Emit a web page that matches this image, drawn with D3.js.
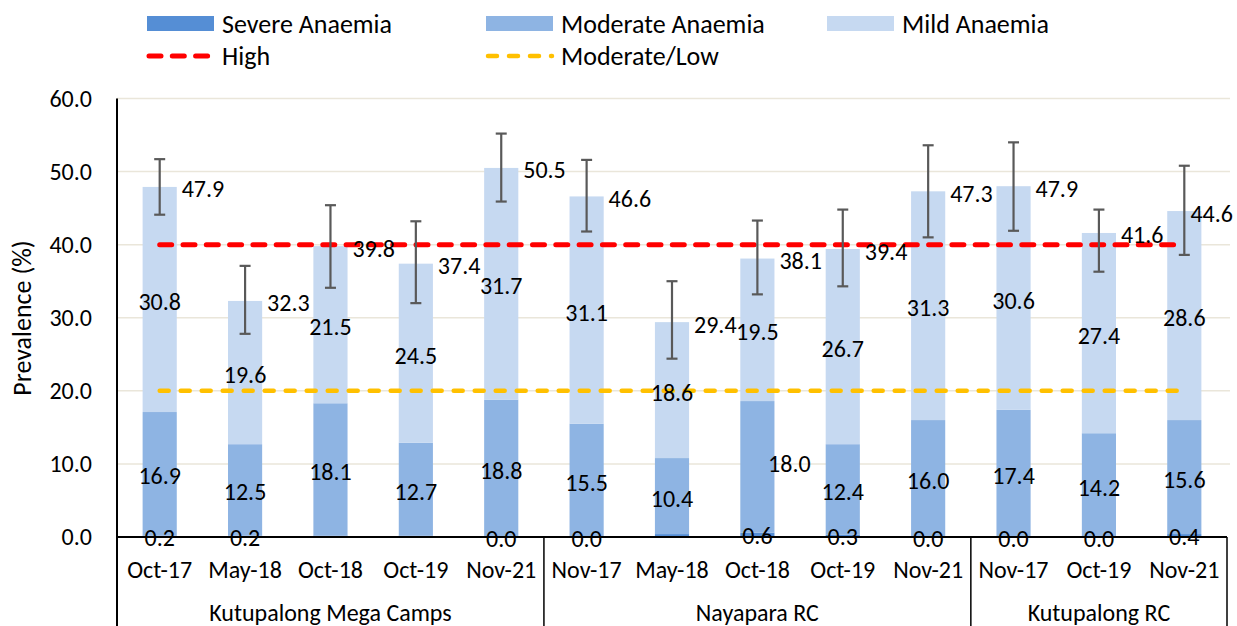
<!DOCTYPE html>
<html>
<head>
<meta charset="utf-8">
<script src="https://cdnjs.cloudflare.com/ajax/libs/d3/7.8.5/d3.min.js"></script>
<style>
  body { margin: 0; background: #fff; }
  svg text { font-family: Carlito, Calibri, Lato, sans-serif; fill: #000; }
</style>
</head>
<body>
<div class="content-container"></div>
<script>
// DATA
const categories = ["Oct-17", "May-18", "Oct-18", "Oct-19", "Nov-21",
                    "Nov-17", "May-18", "Oct-18", "Oct-19", "Nov-21",
                    "Nov-17", "Oct-19", "Nov-21"];
const groupNames = ["Kutupalong Mega Camps", "Nayapara RC", "Kutupalong RC"];
const groupSizes = [5, 5, 3];
const severe   = [0.2, 0.2, 0.2, 0.2, 0.0, 0.0, 0.4, 0.6, 0.3, 0.0, 0.0, 0.0, 0.4];
const severeLabelShown = [1, 1, 0, 0, 1, 1, 0, 1, 1, 1, 1, 1, 1];
const moderate = [16.9, 12.5, 18.1, 12.7, 18.8, 15.5, 10.4, 18.0, 12.4, 16.0, 17.4, 14.2, 15.6];
const mild     = [30.8, 19.6, 21.5, 24.5, 31.7, 31.1, 18.6, 19.5, 26.7, 31.3, 30.6, 27.4, 28.6];
const totals   = [47.9, 32.3, 39.8, 37.4, 50.5, 46.6, 29.4, 38.1, 39.4, 47.3, 47.9, 41.6, 44.6];
const errLow   = [44.1, 27.8, 34.1, 32.0, 45.9, 41.8, 24.4, 33.2, 34.3, 41.0, 41.9, 36.3, 38.6];
const errHigh  = [51.7, 37.1, 45.4, 43.2, 55.2, 51.6, 35.0, 43.3, 44.8, 53.6, 54.0, 44.8, 50.8];
const thresholdHigh = 40;
const thresholdModLow = 20;
const yTicks = [0, 10, 20, 30, 40, 50, 60];
const seriesNames = ["Severe Anaemia", "Moderate Anaemia", "Mild Anaemia"];
const lineNames = ["High", "Moderate/Low"];

// LAYOUT
const width = 1237, height = 626;
const padLeft = 117, padRight = 1227, padTop = 98.5, padBottom = 537;
const colors = ["#558ED5", "#8EB4E3", "#C6D9F1"];
const fontSize = 24;      // labels, ticks
const legendFont = 26;
const titleFont = 26;

const svg = d3.select(".content-container").append("svg")
  .attr("width", width).attr("height", height);

const idx = d3.range(categories.length);
const x = d3.scaleBand().domain(idx).range([padLeft, padRight]).paddingInner(0.6).paddingOuter(0.3);
const y = d3.scaleLinear().domain([0, 60]).range([padBottom, padTop]);
const cx = i => x(i) + x.bandwidth() / 2;

// gridlines
svg.append("g").selectAll("line").data(yTicks.filter(t => t > 0)).enter().append("line")
  .attr("x1", padLeft).attr("x2", 1230)
  .attr("y1", d => y(d)).attr("y2", d => y(d))
  .attr("stroke", "#EAE6DA").attr("stroke-width", 1.5);

// stacked bars
const stackData = idx.map(i => ({ i: i, s: severe[i], m: moderate[i], l: mild[i] }));
const stacked = d3.stack().keys(["s", "m", "l"])(stackData);
svg.append("g").selectAll("g").data(stacked).enter().append("g")
  .attr("fill", (d, k) => colors[k])
  .selectAll("rect").data(d => d).enter().append("rect")
  .attr("x", d => x(d.data.i))
  .attr("width", x.bandwidth())
  .attr("y", d => y(d[1]))
  .attr("height", d => y(d[0]) - y(d[1]));

// threshold lines
svg.append("line")
  .attr("x1", cx(0)).attr("x2", cx(categories.length - 1))
  .attr("y1", y(thresholdHigh)).attr("y2", y(thresholdHigh))
  .attr("stroke", "#FF0000").attr("stroke-width", 5)
  .attr("stroke-linecap", "round").attr("stroke-dasharray", "12,11.3");
svg.append("line")
  .attr("x1", cx(0)).attr("x2", cx(categories.length - 1))
  .attr("y1", y(thresholdModLow)).attr("y2", y(thresholdModLow))
  .attr("stroke", "#FFC000").attr("stroke-width", 4.5)
  .attr("stroke-linecap", "round").attr("stroke-dasharray", "9,12");

// error bars
const eb = svg.append("g").attr("stroke", "#595959").attr("stroke-width", 2.2);
idx.forEach(i => {
  eb.append("line").attr("x1", cx(i)).attr("x2", cx(i)).attr("y1", y(errLow[i])).attr("y2", y(errHigh[i]));
  eb.append("line").attr("x1", cx(i) - 5.5).attr("x2", cx(i) + 5.5).attr("y1", y(errLow[i])).attr("y2", y(errLow[i]));
  eb.append("line").attr("x1", cx(i) - 5.5).attr("x2", cx(i) + 5.5).attr("y1", y(errHigh[i])).attr("y2", y(errHigh[i]));
});

// axis lines
svg.append("line").attr("x1", padLeft).attr("x2", padRight).attr("y1", padBottom).attr("y2", padBottom)
  .attr("stroke", "#000").attr("stroke-width", 2);
svg.append("line").attr("x1", padLeft).attr("x2", padLeft).attr("y1", padTop).attr("y2", height)
  .attr("stroke", "#000").attr("stroke-width", 2);
let acc = 0;
groupSizes.forEach(n => {
  acc += n;
  const gx = acc < categories.length ? x(acc) - x.step() * x.paddingInner() / 2 : padRight;
  svg.append("line").attr("x1", gx).attr("x2", gx).attr("y1", padBottom).attr("y2", height)
    .attr("stroke", "#000").attr("stroke-width", 1.5);
});

// y axis
const yAxis = d3.axisLeft(y).tickValues(yTicks).tickFormat(d3.format(".1f")).tickSize(0).tickPadding(25);
const yg = svg.append("g").attr("transform", "translate(" + padLeft + ",0)").call(yAxis);
yg.select(".domain").remove();
yg.attr("font-family", null).attr("font-size", null);
yg.selectAll("text").style("font-size", fontSize + "px").attr("fill", "#000");

svg.append("text")
  .attr("transform", "translate(22,318) rotate(-90)")
  .attr("text-anchor", "middle").attr("dominant-baseline", "central")
  .style("font-size", titleFont + "px")
  .text("Prevalence (%)");

// category labels
svg.append("g").selectAll("text").data(idx).enter().append("text")
  .attr("x", d => cx(d)).attr("y", 569)
  .attr("text-anchor", "middle").attr("dominant-baseline", "central")
  .style("font-size", fontSize + "px")
  .text(d => categories[d]);

acc = 0;
groupNames.forEach((g, k) => {
  const a = acc, b = acc + groupSizes[k] - 1;
  acc += groupSizes[k];
  svg.append("text")
    .attr("x", (cx(a) + cx(b)) / 2).attr("y", 612)
    .attr("text-anchor", "middle").attr("dominant-baseline", "central")
    .style("font-size", fontSize + "px")
    .text(g);
});

// data labels
const fmt = d3.format(".1f");
const labels = svg.append("g").style("font-size", fontSize + "px");
idx.forEach(i => {
  if (severeLabelShown[i]) {
    labels.append("text").attr("x", cx(i)).attr("y", y(severe[i] / 2) + 1)
      .attr("text-anchor", "middle").attr("dominant-baseline", "central").text(fmt(severe[i]));
  }
  // moderate label for Nayapara Oct-18 was dragged right of the bar
  const nudge = i === 7 ? [32, -5] : [0, 0];
  labels.append("text").attr("x", cx(i) + nudge[0]).attr("y", y(severe[i] + moderate[i] / 2) + 2 + nudge[1])
    .attr("text-anchor", "middle").attr("dominant-baseline", "central").text(fmt(moderate[i]));
  labels.append("text").attr("x", cx(i)).attr("y", y(severe[i] + moderate[i] + mild[i] / 2) + 2)
    .attr("text-anchor", "middle").attr("dominant-baseline", "central").text(fmt(mild[i]));
  const t = labels.append("text").attr("x", cx(i) + 22).attr("y", y(totals[i]) + 2)
    .attr("text-anchor", "start").attr("dominant-baseline", "central").text(fmt(totals[i]));
  const w = t.node().getComputedTextLength();
  if (cx(i) + 22 + w > 1233) t.attr("x", 1233 - w);
});

// legend
const legX = [147, 486, 827];
const lg = svg.append("g").style("font-size", legendFont + "px");
seriesNames.forEach((n, k) => {
  lg.append("rect").attr("x", legX[k]).attr("y", 16).attr("width", 67).attr("height", 15).attr("fill", colors[k]);
  lg.append("text").attr("x", legX[k] + 75).attr("y", 23.5).attr("dominant-baseline", "central").text(n);
});
const lineStyles = [["#FF0000", 5, "12,11.3"], ["#FFC000", 4.5, "9,12"]];
lineNames.forEach((n, k) => {
  lg.append("line").attr("x1", legX[k] + 2).attr("x2", legX[k] + 66).attr("y1", 56).attr("y2", 56)
    .attr("stroke", lineStyles[k][0]).attr("stroke-width", lineStyles[k][1])
    .attr("stroke-linecap", "round").attr("stroke-dasharray", lineStyles[k][2]);
  lg.append("text").attr("x", legX[k] + 75).attr("y", 55.5).attr("dominant-baseline", "central").text(n);
});
</script>
</body>
</html>
